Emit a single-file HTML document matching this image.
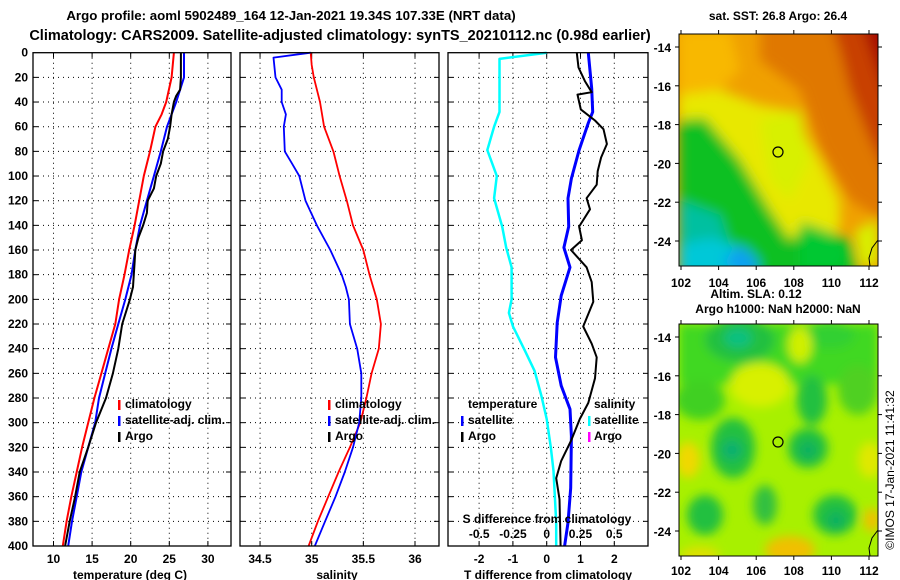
<!DOCTYPE html>
<html><head><meta charset="utf-8"><style>
html,body{margin:0;padding:0;background:#fff;}
svg{display:block;font-family:"Liberation Sans",Arial,sans-serif;font-weight:bold;}
text{fill:#000;}
</style></head><body>
<svg id="fig" width="900" height="580" viewBox="0 0 900 580" xmlns="http://www.w3.org/2000/svg">
<defs>
<filter id="blur4" x="-20%" y="-20%" width="140%" height="140%"><feGaussianBlur stdDeviation="5"/></filter>
<filter id="blur7" x="-20%" y="-20%" width="140%" height="140%"><feGaussianBlur stdDeviation="6"/></filter>
<clipPath id="clipTop"><rect x="679" y="34" width="199" height="232"/></clipPath>
<clipPath id="clipBot"><rect x="679" y="324" width="199" height="232"/></clipPath>
</defs>
<text x="291" y="20" font-size="13.3" text-anchor="middle">Argo profile: aoml 5902489_164 12-Jan-2021 19.34S 107.33E (NRT data)</text>
<text x="340" y="40" font-size="14.5" text-anchor="middle">Climatology: CARS2009. Satellite-adjusted climatology: synTS_20210112.nc (0.98d earlier)</text>

<!-- Top map: SST -->
<g clip-path="url(#clipTop)">
<rect x="679" y="34" width="199" height="232" fill="#f0a000"/>
<g filter="url(#blur7)">
<polygon points="760,20 900,20 900,230 850,200 820,150 800,90 760,60" fill="#e07800"/>
<polygon points="830,20 900,20 900,200 870,140 850,90 840,50" fill="#c84000"/>
<polygon points="860,20 900,20 900,130 880,80" fill="#a81000"/>
<polygon points="679,30 730,30 740,70 710,100 679,100" fill="#f8b800"/>
<polygon points="679,95 720,90 760,105 790,110 820,160 840,200 840,230 800,250 770,220 720,160 679,135" fill="#e8e800"/>
<polygon points="760,120 800,110 810,160 790,200 770,180" fill="#d8f000"/>
<polygon points="679,120 705,118 740,160 770,210 790,240 810,225 850,240 860,280 679,280" fill="#10c020"/>
<polygon points="679,200 720,215 740,280 679,280" fill="#00c0a0"/>
<polygon points="679,245 710,238 750,250 760,280 679,280" fill="#00c8d8"/>
<polygon points="722,262 740,245 760,262 750,280" fill="#10a0f0"/>
<polygon points="800,222 830,232 850,250 840,270 800,270" fill="#00c830"/>
<polygon points="855,230 878,220 878,266 860,266" fill="#d8f000"/>
</g>
</g>
<rect x="679" y="34" width="199" height="232" fill="none" stroke="#000" stroke-width="1"/>
<path d="M878,240 L872,248 L869,258 L870,266" fill="none" stroke="#000" stroke-width="1"/>
<circle cx="778" cy="152" r="5" fill="none" stroke="#000" stroke-width="1.2"/>
<text x="778" y="20" font-size="12" text-anchor="middle">sat. SST: 26.8 Argo: 26.4</text>
<text x="756" y="298" font-size="12" text-anchor="middle">Altim. SLA: 0.12</text>

<!-- Bottom map: SLA -->
<g clip-path="url(#clipBot)">
<rect x="679" y="324" width="199" height="232" fill="#a8f000"/>
<g filter="url(#blur4)">
<rect x="679" y="324" width="199" height="60" fill="#40d820"/>
<ellipse cx="740" cy="340" rx="35" ry="22" fill="#20c040"/>
<ellipse cx="738" cy="338" rx="14" ry="10" fill="#10c080"/>
<ellipse cx="830" cy="335" rx="25" ry="14" fill="#30d030"/>
<ellipse cx="800" cy="345" rx="12" ry="18" fill="#d0f000"/>
<ellipse cx="760" cy="385" rx="30" ry="22" fill="#d8f000"/>
<ellipse cx="812" cy="400" rx="15" ry="25" fill="#20c040"/>
<ellipse cx="858" cy="390" rx="20" ry="25" fill="#50d020"/>
<ellipse cx="700" cy="400" rx="25" ry="20" fill="#40d020"/>
<ellipse cx="733" cy="448" rx="22" ry="30" fill="#20c040"/>
<ellipse cx="732" cy="450" rx="10" ry="10" fill="#10b070"/>
<ellipse cx="808" cy="448" rx="20" ry="20" fill="#20c040"/>
<ellipse cx="808" cy="450" rx="9" ry="9" fill="#10b060"/>
<ellipse cx="688" cy="460" rx="12" ry="18" fill="#f0d800"/>
<ellipse cx="870" cy="460" rx="12" ry="18" fill="#e0e800"/>
<ellipse cx="705" cy="515" rx="18" ry="20" fill="#20c040"/>
<ellipse cx="765" cy="505" rx="12" ry="20" fill="#30c040"/>
<ellipse cx="835" cy="515" rx="22" ry="20" fill="#20c040"/>
<ellipse cx="836" cy="520" rx="9" ry="9" fill="#10b060"/>
<ellipse cx="790" cy="550" rx="25" ry="14" fill="#f0c000"/>
<ellipse cx="872" cy="520" rx="8" ry="12" fill="#f0c000"/>
<ellipse cx="700" cy="555" rx="20" ry="8" fill="#e0e000"/>
</g>
</g>
<rect x="679" y="324" width="199" height="232" fill="none" stroke="#000" stroke-width="1"/>
<path d="M878,530 L872,538 L869,548 L870,556" fill="none" stroke="#000" stroke-width="1"/>
<circle cx="778" cy="442" r="5" fill="none" stroke="#000" stroke-width="1.2"/>
<text x="778" y="313" font-size="12" text-anchor="middle">Argo h1000: NaN h2000: NaN</text>
<text transform="translate(894,470) rotate(-90)" font-size="12" font-weight="normal" text-anchor="middle">©IMOS 17-Jan-2021 11:41:32</text>
<g id="dyn"></g>
</svg>
<script>
// ---- data ----
const depthTick = [0,20,40,60,80,100,120,140,160,180,200,220,240,260,280,300,320,340,360,380,400];
const tempTicks = [10,15,20,25,30];
const salTicks = [34.5,35,35.5,36];
const salTickLabels = ['34.5','35','35.5','36'];
const tdTicks = [-2,-1,0,1,2];
const sdTicks = [-0.5,-0.25,0,0.25,0.5];
const sdTickLabels = ['-0.5','-0.25','0','0.25','0.5'];
const mapLats = [-14,-16,-18,-20,-22,-24];
const mapLons = [102,104,106,108,110,112];

const tClimDepth = [0,20,40,50,60,80,100,120,140,160,180,200,220,240,260,280,300,320,340,360,380,400];
const tClim = [25.6,25.3,24.6,24.0,23.2,22.5,21.7,21.1,20.5,19.8,19.2,18.5,18.0,17.1,16.2,15.3,14.5,13.7,13.0,12.3,11.7,11.2];
const tSatDepth = [0,20,30,40,60,80,100,120,140,160,180,200,220,240,260,280,300,320,340,360,380,400];
const tSat = [26.9,26.9,26.4,25.9,24.7,23.9,23.0,22.1,21.2,20.6,20.1,19.3,18.4,17.5,16.7,15.9,15.4,14.5,13.6,13.0,12.4,11.9];
const tArgoDepth = [0,20,30,35,40,50,60,70,80,90,100,110,120,130,140,150,160,170,180,190,200,220,240,260,280,300,320,340,360,380,400];
const tArgo = [26.5,26.5,26.4,25.9,25.6,25.3,25.1,24.8,24.2,23.9,23.3,23.0,22.2,22.1,21.6,21.0,20.6,20.5,20.4,20.3,19.9,18.9,18.4,17.7,16.8,15.5,14.5,13.4,12.8,12.1,11.5];

const sClimDepth = [0,10,20,40,60,80,100,120,140,160,180,200,220,240,260,280,300,320,340,360,380,400];
const sClim = [34.99,35.0,35.02,35.08,35.12,35.21,35.27,35.34,35.40,35.50,35.56,35.63,35.67,35.65,35.58,35.53,35.47,35.37,35.26,35.16,35.06,34.97];
const sSatDepth = [0,4,20,30,40,50,60,80,90,100,120,140,160,180,190,200,220,240,260,280,300,320,340,360,380,400];
const sSat = [34.99,34.63,34.65,34.71,34.71,34.75,34.73,34.74,34.81,34.88,34.94,35.05,35.18,35.29,35.33,35.36,35.37,35.44,35.48,35.48,35.46,35.40,35.32,35.23,35.13,35.03];

const dSDepth = [0,5,20,48,60,79,100,118,141,158,174,200,211,222,242,258,278,297,320,339,359,381,400];
const dSSat = [0,-0.35,-0.35,-0.35,-0.39,-0.44,-0.37,-0.39,-0.33,-0.30,-0.26,-0.26,-0.28,-0.25,-0.16,-0.09,-0.04,0,0.03,0.05,0.06,0.07,0.07];
const dTSatDepth = [0,29,48,57,79,102,118,141,158,174,197,219,247,270,289,311,353,381,400];
const dTSat = [1.23,1.33,1.36,1.23,0.96,0.73,0.63,0.65,0.51,0.69,0.43,0.31,0.26,0.43,0.69,0.73,0.71,0.63,0.53];
const dTArgoDepth = [0,12,23,32,34,46,55,62,74,85,96,107,118,127,141,152,160,174,186,202,222,236,247,264,284,297,314,331,345,362,400];
const dTArgo = [0.89,0.94,1.13,1.33,0.91,1.01,1.43,1.68,1.78,1.61,1.51,1.48,1.18,1.28,0.96,1.04,0.72,1.18,1.33,1.38,1.08,1.33,1.48,1.43,1.23,0.98,0.73,0.43,0.28,0.38,0.41];

// ---- layout ----
const NS = 'http://www.w3.org/2000/svg';
const root = document.getElementById('dyn');
const Y0 = 52.7, Y1 = 546;
function yD(d){ return Y0 + d*(Y1-Y0)/400; }
const P1 = {x0:33,x1:231}, P2 = {x0:240,x1:439}, P3 = {x0:448,x1:648};
function xT(v){ return 53.5 + (v-10)*7.72; }
function xS(v){ return 311.7 + (v-35)*103.3; }
function xTD(v){ return 546.7 + v*33.8; }
function xSD(v){ return 546.7 + v*135; }
function latTop(l){ return 47 + (-14 - l)*19.4; }
function latBot(l){ return 337 + (-14 - l)*19.4; }
function lonX(l){ return 681 + (l-102)*18.8; }

function mk(tag, attrs){
  const e = document.createElementNS(NS, tag);
  for (const k in attrs) e.setAttribute(k, attrs[k]);
  root.appendChild(e);
  return e;
}
function txt(x,y,s,anchor,size,name){
  const e = mk('text',{x:x,y:y,'font-size':size,'text-anchor':anchor});
  e.textContent = s;
  
  
  return e;
}
function panel(P, xs, xf, pname){
  depthTick.forEach(d=>{
    if (d===0||d===400) return;
    const g = mk('line',{x1:P.x0,x2:P.x1,y1:yD(d),y2:yD(d),stroke:'#000','stroke-width':1,'stroke-dasharray':'1,4'});
    
    
    const t1 = mk('line',{x1:P.x0,x2:P.x0+5,y1:yD(d),y2:yD(d),stroke:'#000'});
    
    
    const t2 = mk('line',{x1:P.x1-5,x2:P.x1,y1:yD(d),y2:yD(d),stroke:'#000'});
    
    
  });
  xs.forEach(v=>{
    const x = xf(v);
    const g = mk('line',{x1:x,x2:x,y1:Y0,y2:Y1,stroke:'#000','stroke-width':1,'stroke-dasharray':'1,4'});
    
    
    const t1 = mk('line',{x1:x,x2:x,y1:Y1-5,y2:Y1,stroke:'#000'});
    
    
    const t2 = mk('line',{x1:x,x2:x,y1:Y0,y2:Y0+5,stroke:'#000'});
    
    
  });
}
function frame(P, pname){
  const f = mk('rect',{x:P.x0,y:Y0,width:P.x1-P.x0,height:Y1-Y0,fill:'none',stroke:'#000','stroke-width':1.3});
  
  
}
function series(depths, vals, xf, color, w, name){
  const pts = depths.map((d,i)=> xf(vals[i]).toFixed(1)+','+yD(d).toFixed(1)).join(' ');
  const p = mk('polyline',{points:pts,fill:'none',stroke:color,'stroke-width':w,'stroke-linejoin':'round'});
  
  
}
function legBar(x,y,color,name){
  const b = mk('rect',{x:x,y:y-9,width:2.5,height:10,fill:color});
  
  
}

// panel 1 temperature
panel(P1, tempTicks, xT, 'temp-panel');
depthTick.forEach(d=>{ txt(28, yD(d)+4, String(d), 'end', 12, 'depth-tick-label'); });
tempTicks.forEach(v=>{ txt(xT(v), 563, String(v), 'middle', 12, 'temp-tick-label'); });
txt(130, 579, 'temperature (deg C)', 'middle', 12, 'temp-axis-title');
series(tClimDepth, tClim, xT, '#ff0000', 2, 'temp-climatology-line');
series(tSatDepth, tSat, xT, '#0000ff', 2, 'temp-satellite-line');
series(tArgoDepth, tArgo, xT, '#000000', 2, 'temp-argo-line');
frame(P1, 'temp-panel');
legBar(118, 409, '#ff0000', 'legend-climatology-marker');
txt(125, 408, 'climatology', 'start', 12, 'legend-climatology');
legBar(118, 425, '#0000ff', 'legend-satellite-marker');
txt(125, 424, 'satellite-adj. clim.', 'start', 12, 'legend-satellite-adj');
legBar(118, 441, '#000000', 'legend-argo-marker');
txt(125, 440, 'Argo', 'start', 12, 'legend-argo');

// panel 2 salinity
panel(P2, salTicks, xS, 'sal-panel');
salTicks.forEach((v,i)=>{ txt(xS(v), 563, salTickLabels[i], 'middle', 12, 'sal-tick-label'); });
txt(337, 579, 'salinity', 'middle', 12, 'sal-axis-title');
series(sClimDepth, sClim, xS, '#ff0000', 1.8, 'sal-climatology-line');
series(sSatDepth, sSat, xS, '#0000ff', 1.8, 'sal-satellite-line');
frame(P2, 'sal-panel');
legBar(328, 409, '#ff0000', 'legend2-climatology-marker');
txt(335, 408, 'climatology', 'start', 12, 'legend2-climatology');
legBar(328, 425, '#0000ff', 'legend2-satellite-marker');
txt(335, 424, 'satellite-adj. clim.', 'start', 12, 'legend2-satellite-adj');
legBar(328, 441, '#000000', 'legend2-argo-marker');
txt(335, 440, 'Argo', 'start', 12, 'legend2-argo');

// panel 3 differences
panel(P3, tdTicks, xTD, 'diff-panel');
tdTicks.forEach(v=>{ txt(xTD(v), 563, String(v), 'middle', 12, 'tdiff-tick-label'); });
txt(548, 579, 'T difference from climatology', 'middle', 12, 'tdiff-axis-title');
series(dSDepth, dSSat, xSD, '#00ffff', 2.5, 'sdiff-satellite-line');
series(dTSatDepth, dTSat, xTD, '#0000ff', 3, 'tdiff-satellite-line');
series(dTArgoDepth, dTArgo, xTD, '#000000', 2, 'tdiff-argo-line');
frame(P3, 'diff-panel');
sdTicks.forEach((v,i)=>{ txt(xSD(v), 538, sdTickLabels[i], 'middle', 12, 'sdiff-tick-label'); });
txt(547, 523, 'S difference from climatology', 'middle', 12, 'sdiff-axis-title');
txt(468, 408, 'temperature', 'start', 12, 'legend3-temperature-header');
txt(594, 408, 'salinity', 'start', 12, 'legend3-salinity-header');
legBar(461, 425, '#0000ff', 'legend3-temp-satellite-marker');
txt(468, 424, 'satellite', 'start', 12, 'legend3-temp-satellite');
legBar(461, 441, '#000000', 'legend3-temp-argo-marker');
txt(468, 440, 'Argo', 'start', 12, 'legend3-temp-argo');
legBar(588, 425, '#00ffff', 'legend3-sal-satellite-marker');
txt(594, 424, 'satellite', 'start', 12, 'legend3-sal-satellite');
legBar(588, 441, '#ff00ff', 'legend3-sal-argo-marker');
txt(594, 440, 'Argo', 'start', 12, 'legend3-sal-argo');

// map axes
mapLats.forEach(l=>{
  txt(671, latTop(l)+5, String(l), 'end', 12, 'sst-lat-label');
  txt(671, latBot(l)+5, String(l), 'end', 12, 'sla-lat-label');
  const a = mk('line',{x1:878,x2:882,y1:latTop(l),y2:latTop(l),stroke:'#000'});
  
  
  const b = mk('line',{x1:878,x2:882,y1:latBot(l),y2:latBot(l),stroke:'#000'});
  
  
  const c = mk('line',{x1:675,x2:679,y1:latTop(l),y2:latTop(l),stroke:'#000'});
  
  
  const d = mk('line',{x1:675,x2:679,y1:latBot(l),y2:latBot(l),stroke:'#000'});
  
  
});
mapLons.forEach(l=>{
  txt(lonX(l), 287, String(l), 'middle', 12, 'sst-lon-label');
  txt(lonX(l), 575, String(l), 'middle', 12, 'sla-lon-label');
  const a = mk('line',{x1:lonX(l),x2:lonX(l),y1:30,y2:34,stroke:'#000'});
  
  
  const b = mk('line',{x1:lonX(l),x2:lonX(l),y1:266,y2:270,stroke:'#000'});
  
  
  const c = mk('line',{x1:lonX(l),x2:lonX(l),y1:320,y2:324,stroke:'#000'});
  
  
  const d = mk('line',{x1:lonX(l),x2:lonX(l),y1:556,y2:560,stroke:'#000'});
  
  
});
</script>
</body></html>
